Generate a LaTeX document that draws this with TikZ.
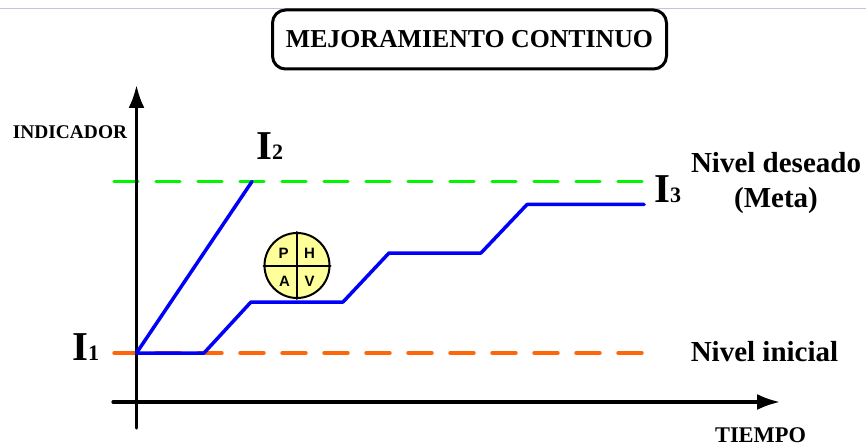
\documentclass[tikz,border=0pt]{standalone}
\usepackage{fontspec}
\setmainfont{Liberation Serif}
\setsansfont{Liberation Sans}
\usetikzlibrary{arrows.meta}

\definecolor{rulelilac}{RGB}{205,190,222}
\definecolor{metagreen}{RGB}{0,245,0}
\definecolor{startorange}{RGB}{255,102,10}
\definecolor{pathblue}{RGB}{0,0,250}
\definecolor{phvayellow}{RGB}{255,255,153}

\tikzset{
  axisline/.style={line width=3.2pt,-{Latex[length=23pt,width=16pt]}},
  levelline/.style={line width=3.4pt,dash pattern=on 24pt off 18pt},
  pathline/.style={line width=3.5pt,pathblue},
  boldlabel/.style={font=\fontsize{29}{35}\selectfont\bfseries,align=center,inner sep=0pt},
  ilabel/.style={inner sep=0pt,font=\bfseries},
  phvaletter/.style={font=\fontsize{15}{17}\selectfont\sffamily\bfseries,inner sep=0pt}
}
\newcommand{\ilevel}[1]{{\fontsize{41}{41}\selectfont I}{\fontsize{22}{22}\selectfont #1}}

\begin{document}
\begin{tikzpicture}[x=1pt,y=-1pt,line join=round,line cap=round]
  \useasboundingbox (0,0) rectangle (866,446);

  % ---- reference values (pixels, y down) ----
  \def\axisX{136.5}
  \def\axisY{402}
  \def\metaY{181.5}
  \def\startY{353}

  % ---- rule + title ----
  \draw[rulelilac,line width=1pt,line cap=butt] (0,8.5) -- (866,8.5);
  \node[draw,line width=3pt,rounded corners=13pt,minimum width=394pt,minimum height=59pt,
    font=\fontsize{25.8}{30}\selectfont\bfseries,inner sep=0pt] (title) at (469.5,39.5) {MEJORAMIENTO CONTINUO};

  % ---- levels ----
  \draw[levelline,metagreen] (114,\metaY) -- (645,\metaY);
  \draw[levelline,startorange] (114,\startY) -- (645,\startY);

  % ---- axes ----
  \draw[axisline] (\axisX,428) -- (\axisX,85);
  \draw[axisline] (113,\axisY) -- (780,\axisY);

  % ---- improvement paths ----
  \draw[pathline] (\axisX,\startY) -- (252,\metaY);
  \draw[pathline] (\axisX,\startY) -- (204,\startY) -- (251,302) -- (343,302) -- (389,253)
    -- (481,253) -- (527,204.5) -- (644,204.5);

  % ---- PHVA wheel ----
  \node[circle,draw,line width=2pt,fill=phvayellow,minimum size=65pt,inner sep=0pt] (wheel) at (297,265.5) {};
  \draw[line width=2pt] (wheel.north) -- (wheel.south);
  \draw[line width=2pt] (wheel.west) -- (wheel.east);
  \node[phvaletter] (letterP) at (283.5,253) {P};
  \node[phvaletter] (letterH) at (309.5,253) {H};
  \node[phvaletter] (letterA) at (284.5,281) {A};
  \node[phvaletter] (letterV) at (309.5,281) {V};

  % ---- labels ----
  \node[inner sep=0pt,font=\fontsize{19.4}{22}\selectfont\bfseries] (indicador) at (70,132) {INDICADOR};
  \node[inner sep=0pt,font=\fontsize{22.4}{25}\selectfont\bfseries] (tiempo) at (760.5,435) {TIEMPO};
  \node[ilabel,anchor=base west] (iTwo) at (256,160) {\ilevel{2}};
  \node[ilabel,anchor=base west] (iOne) at (72,360) {\ilevel{1}};
  \node[ilabel,anchor=base west] (iThree) at (654,203) {\ilevel{3}};
  \node[boldlabel] (deseado) at (776,183) {Nivel deseado\\(Meta)};
  \node[boldlabel] (inicial) at (764.5,352) {Nivel inicial};

\end{tikzpicture}
\end{document}
